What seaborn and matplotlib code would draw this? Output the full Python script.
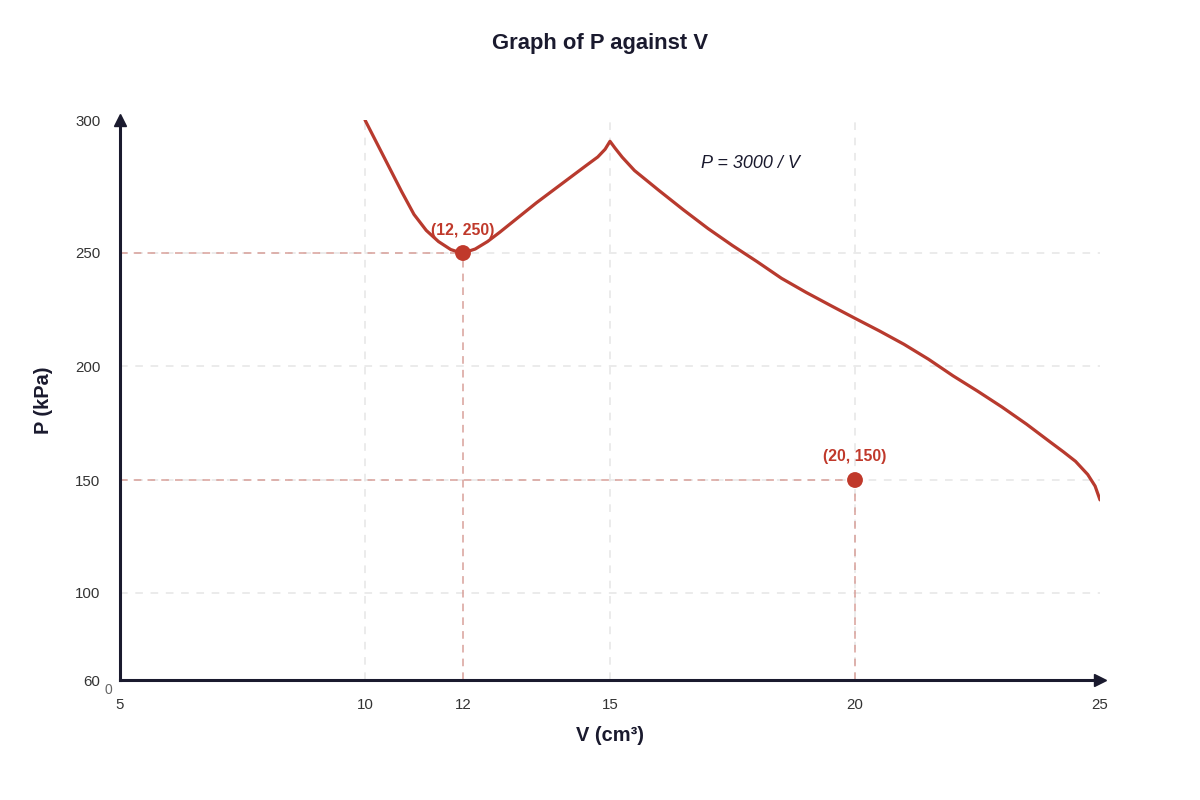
import numpy as np
import pandas as pd
import matplotlib
matplotlib.use("Agg")
import matplotlib.pyplot as plt
import seaborn as sns

# ---------------- data ----------------
V_curve = [10, 10.25, 10.5, 10.75, 11, 11.25, 11.5, 11.75, 11.9, 12, 12.25, 12.5, 12.75,
           13, 13.5, 14, 14.5, 14.75, 14.9, 15, 15.1, 15.25, 15.5, 16, 16.5, 17, 17.5,
           18, 18.5, 19, 19.5, 20, 20.5, 21, 21.5, 22, 22.5, 23, 23.5, 24, 24.25, 24.5,
           24.75, 24.9, 25]
P_curve = [300, 291, 282, 273, 264.5, 258.5, 254.3, 251.3, 250.4, 250, 251.5, 254.3, 257.8,
           261.5, 268.9, 275.8, 282.7, 286.1, 289, 292, 289.5, 286, 281, 273.5, 266.2, 259.2, 252.8,
           246.2, 238.8, 232.6, 226.8, 221.1, 215.5, 209.6, 203, 195.7, 189, 182, 174.5, 166.4,
           162.4, 158.2, 152.4, 147.3, 141.2]

marked_V = [12, 20]
marked_P = [250, 150]
marked_labels = ["(12, 250)", "(20, 150)"]

x_ticks = [5, 10, 12, 15, 20, 25]
y_ticks = [60, 100, 150, 200, 250, 300]
x_grid = [10, 15, 20]
y_grid = [100, 150, 200, 250]

title = "Graph of P against V"
x_label = "V (cm\u00b3)"
y_label = "P (kPa)"
formula = "P = 3000 / V"

# ---------------- style ----------------
# axis positions (pixel heights from the x axis) of the y tick values: uneven scale
Y_POS = np.array([0, 87, 200, 314, 427, 560], dtype=float)
Y_VAL = np.array(y_ticks, dtype=float)

def fwd(p):
    p = np.asarray(p, dtype=float)
    out = np.interp(p, Y_VAL, Y_POS)
    lo = (Y_POS[1] - Y_POS[0]) / (Y_VAL[1] - Y_VAL[0])
    hi = (Y_POS[-1] - Y_POS[-2]) / (Y_VAL[-1] - Y_VAL[-2])
    out = np.where(p < Y_VAL[0], Y_POS[0] + (p - Y_VAL[0]) * lo, out)
    out = np.where(p > Y_VAL[-1], Y_POS[-1] + (p - Y_VAL[-1]) * hi, out)
    return out

def inv(q):
    q = np.asarray(q, dtype=float)
    out = np.interp(q, Y_POS, Y_VAL)
    lo = (Y_VAL[1] - Y_VAL[0]) / (Y_POS[1] - Y_POS[0])
    hi = (Y_VAL[-1] - Y_VAL[-2]) / (Y_POS[-1] - Y_POS[-2])
    out = np.where(q < Y_POS[0], Y_VAL[0] + (q - Y_POS[0]) * lo, out)
    out = np.where(q > Y_POS[-1], Y_VAL[-1] + (q - Y_POS[-1]) * hi, out)
    return out

sns.set_theme(style="white")
plt.rcParams['font.family'] = ['Liberation Sans', 'DejaVu Sans']

DARK = "#1a1a2e"
RED = "#c0392b"

fig = plt.figure(figsize=(12, 8), dpi=100)
ax = fig.add_axes([120 / 1200, 120 / 800, 980 / 1200, 560 / 800])
ax.set_yscale('function', functions=(fwd, inv))
ax.set_xlim(5, 25)
ax.set_ylim(60, 300)

# grid
for gx in x_grid:
    ax.axvline(gx, color="#e6e6e6", lw=1.1, ls=(0, (5, 5)), zorder=0)
for gy in y_grid:
    ax.axhline(gy, color="#e6e6e6", lw=1.1, ls=(0, (5, 5)), zorder=0)

# guide lines to marked points
for v, p in zip(marked_V, marked_P):
    ax.plot([5, v], [p, p], color="#d8a09a", lw=1.1, ls=(0, (5, 4)), zorder=1)
    ax.plot([v, v], [60, p], color="#d8a09a", lw=1.1, ls=(0, (5, 4)), zorder=1)

df = pd.DataFrame({"V": V_curve, "P": P_curve})
sns.lineplot(data=df, x="V", y="P", sort=False, estimator=None, color="#b83a2e",
             lw=2.3, ax=ax, zorder=3)
ax.lines[-1].set_solid_joinstyle("round")

dfm = pd.DataFrame({"V": marked_V, "P": marked_P})
sns.scatterplot(data=dfm, x="V", y="P", color=RED, s=130, edgecolor="none",
                ax=ax, zorder=4)
for v, p, lab in zip(marked_V, marked_P, marked_labels):
    ax.annotate(lab, xy=(v, p), xytext=(0, 23), textcoords="offset pixels",
                ha="center", va="center", fontsize=11.4, fontweight="bold",
                color=RED, zorder=5)

ax.text((750 - 120) / 980, (680 - 164) / 560, formula, transform=ax.transAxes,
        ha="center", va="center", fontsize=13, fontstyle="italic", color=DARK)

# axes styling
for s in ["top", "right"]:
    ax.spines[s].set_visible(False)
for s in ["left", "bottom"]:
    ax.spines[s].set_color(DARK)
    ax.spines[s].set_linewidth(2.2)
ax.set_xticks(x_ticks)
ax.set_yticks(y_ticks)
ax.set_xticklabels([str(t) for t in x_ticks])
ax.set_yticklabels([str(t) for t in y_ticks])
ax.minorticks_off()
ax.tick_params(axis="both", direction="inout", length=16, width=1.6, color=DARK,
               labelsize=10.8, labelcolor="#333333")
ax.tick_params(axis="y", pad=6)
ax.tick_params(axis="x", pad=5)

# arrowheads
ax.plot([1.0], [0.0], marker=">", ms=9, color=DARK, transform=ax.transAxes,
        clip_on=False, zorder=6)
ax.plot([0.0], [1.0], marker="^", ms=9, color=DARK, transform=ax.transAxes,
        clip_on=False, zorder=6)

# origin label
ax.annotate("0", xy=(0, 0), xycoords="axes fraction", xytext=(-12, -10),
            textcoords="offset pixels", ha="center", va="center",
            fontsize=10, color="#666666")

ax.set_xlabel(x_label, fontsize=14.4, fontweight="bold", color=DARK, labelpad=10)
ax.set_ylabel(y_label, fontsize=14.4, fontweight="bold", color=DARK, labelpad=16)
fig.text(0.5, 1 - 44 / 800, title, ha="center", va="center", fontsize=15.8,
         fontweight="bold", color=DARK)

fig.savefig("out.png", dpi=100, facecolor="white")
